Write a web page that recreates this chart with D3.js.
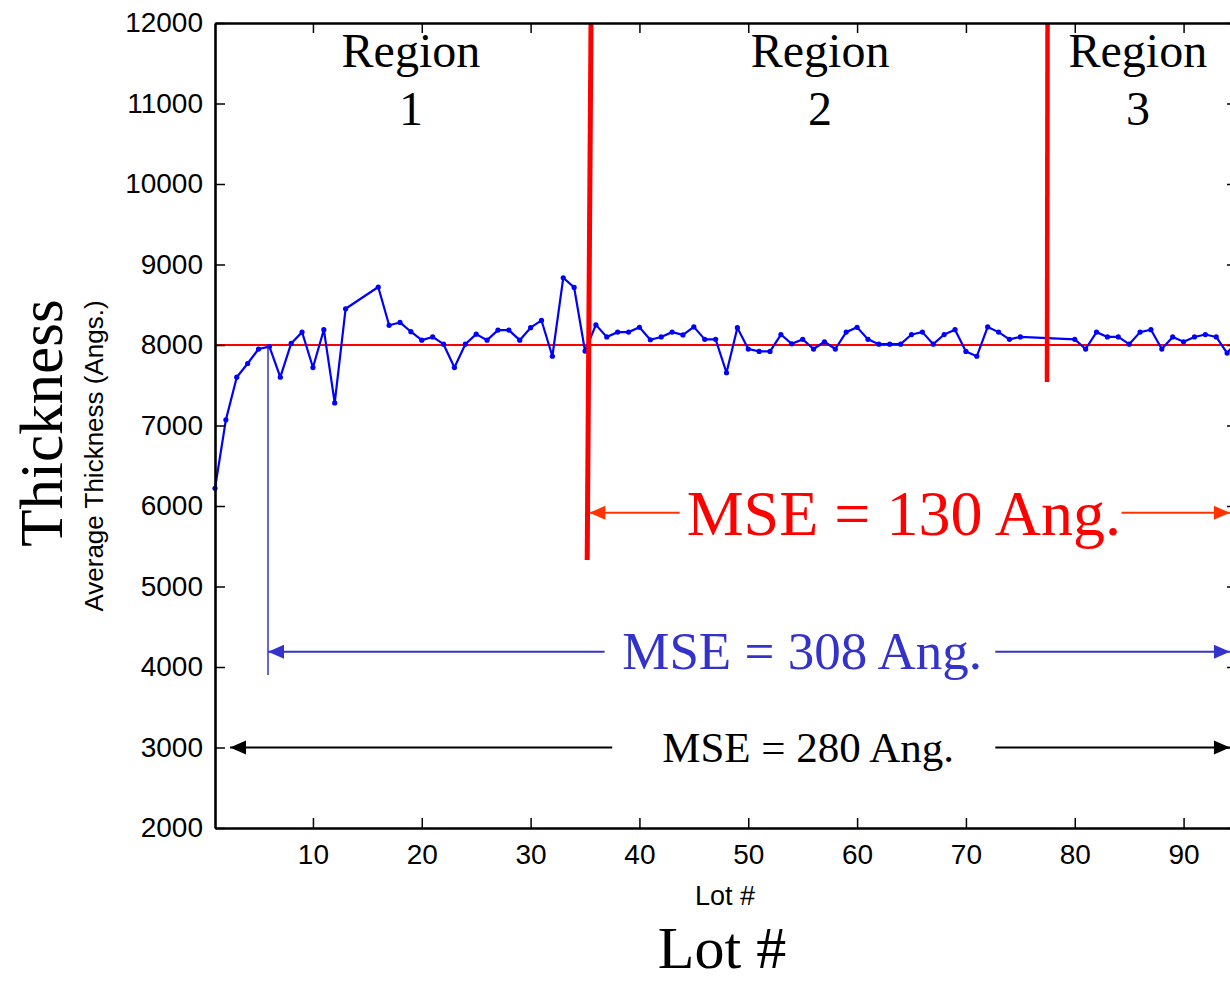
<!DOCTYPE html>
<html>
<head>
<meta charset="utf-8">
<script src="https://cdn.jsdelivr.net/npm/d3@7/dist/d3.min.js"></script>
<style>
  html, body { margin: 0; padding: 0; background: #fff; }
  svg { display: block; }
</style>
</head>
<body>
<svg id="chart" width="1230" height="981"></svg>
<script>
// Lot numbers and average film thickness (Angstroms) per lot
const lots = [1,2,3,4,5,6,7,8,9,10,11,12,13,
  16,17,18,19,20,21,22,23,24,25,26,27,28,29,30,31,32,33,34,35,36,37,38,39,40,
  41,42,43,44,45,46,47,48,49,50,51,52,53,54,55,56,57,58,59,60,61,62,63,64,65,
  66,67,68,69,70,71,72,73,74,75,
  80,81,82,83,84,85,86,87,88,89,90,91,92,93,94,95];
const thickness = [6220,7070,7600,7770,7950,7980,7600,8020,8160,7720,8190,7280,8450,
  8720,8245,8280,8165,8060,8100,8010,7720,8010,8135,8060,8185,8185,8060,8215,8305,7860,8835,8715,7925,8250,8100,8160,8160,8220,
  8065,8100,8160,8125,8225,8070,8070,7655,8215,7950,7920,7920,8130,8015,8070,7950,8040,7950,8160,8220,8070,8010,8010,8010,8130,
  8160,8010,8130,8190,7920,7860,8225,8160,8070,8100,
  8070,7950,8160,8100,8100,8010,8160,8190,7950,8100,8040,8100,8130,8100,7900,8060];

const targetThickness = 8000;
const xTicks = [10,20,30,40,50,60,70,80,90];
const yTicks = [2000,3000,4000,5000,6000,7000,8000,9000,10000,11000,12000];

// Region boundaries (lot at top, lot at bottom, lower end in Angstroms)
const boundaryTopLot = [35.55, 77.5];
const boundaryBottomLot = [35.2, 77.45];
const boundaryLow = [5330, 7540];

const regionNames = ["1", "2", "3"];
const regionCenterLot = [19.0, 56.6, 85.8];

// MSE spans: label, level, start lot, end lot, and the text gap
const mseLabels = ["MSE = 130 Ang.", "MSE = 308 Ang.", "MSE = 280 Ang."];
const mseLevel = [5915, 4190, 3000];
const mseStart = [35.4, 5.87, 2.38];
const mseEnd = [94.26, 94.26, 94.26];
const mseGapStart = [43.7, 36.8, 37.5];
const mseGapEnd = [84.3, 72.7, 72.7];
const mseTextLot = [64.3, 54.95, 55.5];

const svg = d3.select("#chart");
const sans = "'Liberation Sans', Arial, sans-serif";
const serif = "'Liberation Serif', 'Times New Roman', serif";

const x = d3.scaleLinear().domain([1, 95]).range([215, 1238]);
const y = d3.scaleLinear().domain([2000, 12000]).range([828, 23]);

svg.append("rect").attr("width", 1230).attr("height", 981).attr("fill", "#fff");

// Target line
svg.append("line")
  .attr("x1", x(1)).attr("x2", x(95))
  .attr("y1", y(targetThickness)).attr("y2", y(targetThickness))
  .attr("stroke", "#ff0000").attr("stroke-width", 2);

// Thickness series
const pts = lots.map((l, i) => [l, thickness[i]]);
svg.append("path")
  .datum(pts)
  .attr("fill", "none")
  .attr("stroke", "#0000ff")
  .attr("stroke-width", 2.2)
  .attr("stroke-linejoin", "round")
  .attr("d", d3.line().x(d => x(d[0])).y(d => y(d[1])));
svg.append("g").selectAll("circle")
  .data(pts).join("circle")
  .attr("cx", d => x(d[0])).attr("cy", d => y(d[1]))
  .attr("r", 2.6).attr("fill", "#0000ff");

// Region boundaries
boundaryTopLot.forEach((t, i) => {
  svg.append("line")
    .attr("x1", x(t)).attr("y1", y(12000))
    .attr("x2", x(boundaryBottomLot[i])).attr("y2", y(boundaryLow[i]))
    .attr("stroke", "#ff0000").attr("stroke-width", i === 0 ? 5 : 4.5);
});

// Region labels
regionNames.forEach((n, i) => {
  const t = svg.append("text")
    .attr("x", x(regionCenterLot[i]))
    .attr("text-anchor", "middle")
    .attr("font-family", serif).attr("font-size", 48).attr("fill", "#000");
  t.append("tspan").attr("x", x(regionCenterLot[i])).attr("y", 67).text("Region");
  t.append("tspan").attr("x", x(regionCenterLot[i])).attr("y", 125).text(n);
});

// Axes (ticks pointing inward)
const yAxis = svg.append("g").attr("transform", `translate(${x(1)},0)`)
  .call(d3.axisLeft(y).tickValues(yTicks).tickSize(-10).tickSizeOuter(0).tickPadding(12).tickFormat(d3.format("d")));
const yAxisR = svg.append("g").attr("transform", `translate(${x(95)},0)`)
  .call(d3.axisRight(y).tickValues(yTicks).tickSize(-11).tickSizeOuter(0).tickFormat(""));
const xAxis = svg.append("g").attr("transform", `translate(0,${y(2000)})`)
  .call(d3.axisBottom(x).tickValues(xTicks).tickSize(-10).tickSizeOuter(0).tickPadding(16).tickFormat(d3.format("d")));
const xAxisT = svg.append("g").attr("transform", `translate(0,${y(12000)})`)
  .call(d3.axisTop(x).tickValues(xTicks).tickSize(-10).tickSizeOuter(0).tickFormat(""));

[yAxis, yAxisR, xAxis, xAxisT].forEach(g => {
  g.select(".domain").attr("stroke", "#000").attr("stroke-width", 2.6);
  g.selectAll(".tick line").attr("stroke", "#000").attr("stroke-width", 1.5);
  g.selectAll(".tick text").attr("font-family", sans).attr("font-size", 28).attr("fill", "#000");
});

// MSE spans
const mseColor = ["#ff3300", "#3333cc", "#000000"];
const mseTextColor = ["#ff0000", "#3333cc", "#000000"];
const mseFont = [64, 53, 43];
const mseBaseline = [22, 17, 14];
mseLabels.forEach((lab, i) => {
  const yy = y(mseLevel[i]);
  const c = mseColor[i];
  [[mseStart[i], mseGapStart[i]], [mseGapEnd[i], mseEnd[i]]].forEach(s => {
    svg.append("line")
      .attr("x1", x(s[0])).attr("x2", x(s[1]))
      .attr("y1", yy).attr("y2", yy)
      .attr("stroke", c).attr("stroke-width", 2);
  });
  const xl = x(mseStart[i]), xr = x(mseEnd[i]);
  svg.append("path")
    .attr("d", `M${xl},${yy} L${xl + 16},${yy - 7} L${xl + 16},${yy + 7} Z`)
    .attr("fill", c);
  svg.append("path")
    .attr("d", `M${xr},${yy} L${xr - 16},${yy - 7} L${xr - 16},${yy + 7} Z`)
    .attr("fill", c);
  svg.append("text")
    .attr("x", x(mseTextLot[i])).attr("y", yy + mseBaseline[i])
    .attr("text-anchor", "middle")
    .attr("font-family", serif).attr("font-size", mseFont[i])
    .attr("fill", mseTextColor[i]).text(lab);
});

// Marker from lot 6 down to the 308 Ang. span
svg.append("line")
  .attr("x1", x(5.87)).attr("x2", x(5.87))
  .attr("y1", y(7980)).attr("y2", y(3900))
  .attr("stroke", "#3333cc").attr("stroke-width", 1.5);

// Axis titles
svg.append("text")
  .attr("transform", "translate(62,423) rotate(-90)")
  .attr("text-anchor", "middle")
  .attr("font-family", serif).attr("font-size", 61).attr("fill", "#000")
  .text("Thickness");
svg.append("text")
  .attr("transform", "translate(103,456) rotate(-90)")
  .attr("text-anchor", "middle")
  .attr("font-family", sans).attr("font-size", 26).attr("fill", "#000")
  .text("Average Thickness (Angs.)");
svg.append("text")
  .attr("x", 725).attr("y", 905)
  .attr("text-anchor", "middle")
  .attr("font-family", sans).attr("font-size", 27).attr("fill", "#000")
  .text("Lot #");
svg.append("text")
  .attr("x", 722).attr("y", 968)
  .attr("text-anchor", "middle")
  .attr("font-family", serif).attr("font-size", 60).attr("fill", "#000")
  .text("Lot #");
</script>
</body>
</html>
